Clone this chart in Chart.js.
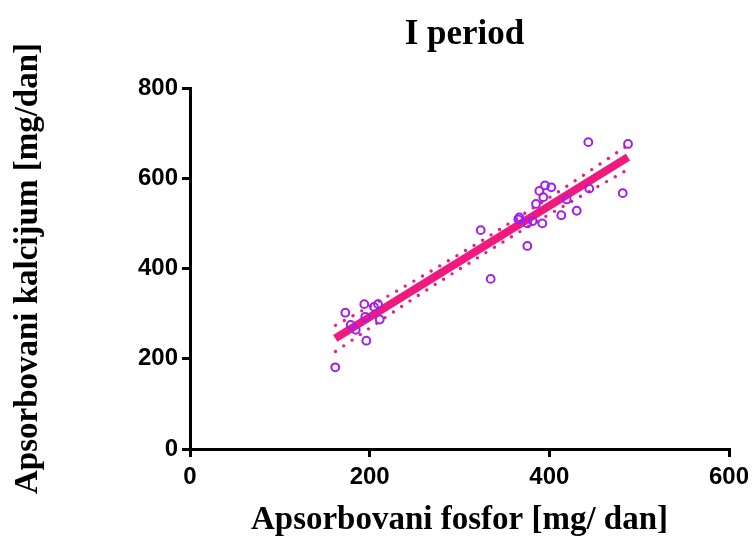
<!DOCTYPE html>
<html>
<head>
<meta charset="utf-8">
<script src="https://cdn.jsdelivr.net/npm/chart.js@4/dist/chart.umd.min.js"></script>
<style>
  html, body { margin: 0; padding: 0; background: #ffffff; }
  #wrap { width: 756px; height: 540px; position: relative; }
</style>
</head>
<body>
<div id="wrap"><canvas id="c" width="756" height="540"></canvas></div>
<script>
// ---- Data ----
const chartTitle = "I period";
const xAxisTitle = "Apsorbovani fosfor [mg/ dan]";
const yAxisTitle = "Apsorbovani kalcijum [mg/dan]";

// Observed points: absorbed phosphorus (x) vs absorbed calcium (y), mg/day
const xVals = [172.9, 194.0, 204.8, 209.3, 195.1, 178.9, 184.5, 211.2, 196.3, 161.7,
               443.4, 487.6, 444.5, 481.7, 419.3, 430.5, 413.3, 395.2, 402.2, 388.9,
               393.3, 385.2, 366.6, 365.5, 375.5, 381.5, 392.2, 323.6, 375.5, 334.7];
const yVals = [302, 321, 315, 321, 293, 275, 264, 287, 240, 181,
               680, 676, 577, 567, 553, 528, 518, 584, 580, 572,
               558, 543, 513, 509, 500, 505, 500, 485, 450, 377];

// Regression line endpoints
const fitX = [161.7, 487.6];
const fitY = [245, 647];

// 95% confidence band (dotted curves)
const bandX     = [162, 200, 250, 290, 330, 370, 420, 488];
const bandUpper = [274, 316, 373, 420, 468, 519, 583, 674];
const bandLower = [216, 268, 335, 386, 436, 485, 543, 620];

// Axis ticks
const xTicks = [0, 200, 400, 600];
const yTicks = [0, 200, 400, 600, 800];

// ---- Build ----
const pts = (xs, ys) => xs.map((x, i) => ({ x: x, y: ys[i] }));
const PINK = '#F0197D';
const PURPLE = '#A21EF0';

const titlePlugin = {
  id: 'centerTitle',
  afterDraw(chart) {
    const ctx = chart.ctx;
    const a = chart.chartArea;
    ctx.save();
    ctx.font = 'bold 35px "Liberation Serif"';
    ctx.fillStyle = '#000';
    ctx.textAlign = 'center';
    ctx.textBaseline = 'alphabetic';
    ctx.fillText(chartTitle, (a.left + a.right) / 2 + 5, 44);
    ctx.restore();
  }
};

const tickFont = { family: '"Liberation Sans"', size: 24, weight: 'bold' };
const titleFont = { family: '"Liberation Serif"', size: 33, weight: 'bold' };

new Chart(document.getElementById('c'), {
  type: 'scatter',
  data: {
    datasets: [
      {
        label: 'data',
        data: pts(xVals, yVals),
        pointStyle: 'circle',
        pointRadius: 3.9,
        pointBorderWidth: 2,
        pointBorderColor: PURPLE,
        pointBackgroundColor: 'rgba(0,0,0,0)',
        order: 0
      },
      {
        label: 'fit',
        data: pts(fitX, fitY),
        showLine: true,
        borderColor: PINK,
        borderWidth: 8,
        pointRadius: 0,
        order: 1
      },
      {
        label: 'upper',
        data: pts(bandX, bandUpper),
        showLine: true,
        borderColor: PINK,
        borderWidth: 3.4,
        borderDash: [0, 10],
        borderCapStyle: 'round',
        cubicInterpolationMode: 'monotone',
        pointRadius: 0,
        order: 2
      },
      {
        label: 'lower',
        data: pts(bandX, bandLower),
        showLine: true,
        borderColor: PINK,
        borderWidth: 3.4,
        borderDash: [0, 10],
        borderCapStyle: 'round',
        cubicInterpolationMode: 'monotone',
        pointRadius: 0,
        order: 2
      }
    ]
  },
  options: {
    responsive: false,
    animation: false,
    devicePixelRatio: 1,
    layout: { padding: { top: 88, right: 27, left: 0, bottom: 0 } },
    plugins: {
      legend: { display: false },
      tooltip: { enabled: false },
      title: { display: false }
    },
    scales: {
      x: {
        type: 'linear',
        min: xTicks[0],
        max: xTicks[xTicks.length - 1],
        afterBuildTicks: (s) => { s.ticks = xTicks.map(v => ({ value: v })); },
        afterFit: (s) => { s.height = 91; },
        grid: { display: true, drawOnChartArea: false, drawTicks: true, tickLength: 8, color: '#000', lineWidth: 3 },
        border: { display: true, color: '#000', width: 3 },
        ticks: { color: '#000', font: tickFont, padding: 6, maxRotation: 0 },
        title: { display: true, text: xAxisTitle, color: '#000', font: titleFont, padding: { top: 0, bottom: 0 } }
      },
      y: {
        type: 'linear',
        min: yTicks[0],
        max: yTicks[yTicks.length - 1],
        afterBuildTicks: (s) => { s.ticks = yTicks.map(v => ({ value: v })); },
        afterFit: (s) => { s.width = 190; },
        grid: { display: true, drawOnChartArea: false, drawTicks: true, tickLength: 8, color: '#000', lineWidth: 3 },
        border: { display: true, color: '#000', width: 3 },
        ticks: { color: '#000', font: tickFont, padding: 4 },
        title: { display: true, text: yAxisTitle, color: '#000', font: titleFont, padding: { top: 9, bottom: 0 } }
      }
    }
  },
  plugins: [titlePlugin]
});
</script>
</body>
</html>
